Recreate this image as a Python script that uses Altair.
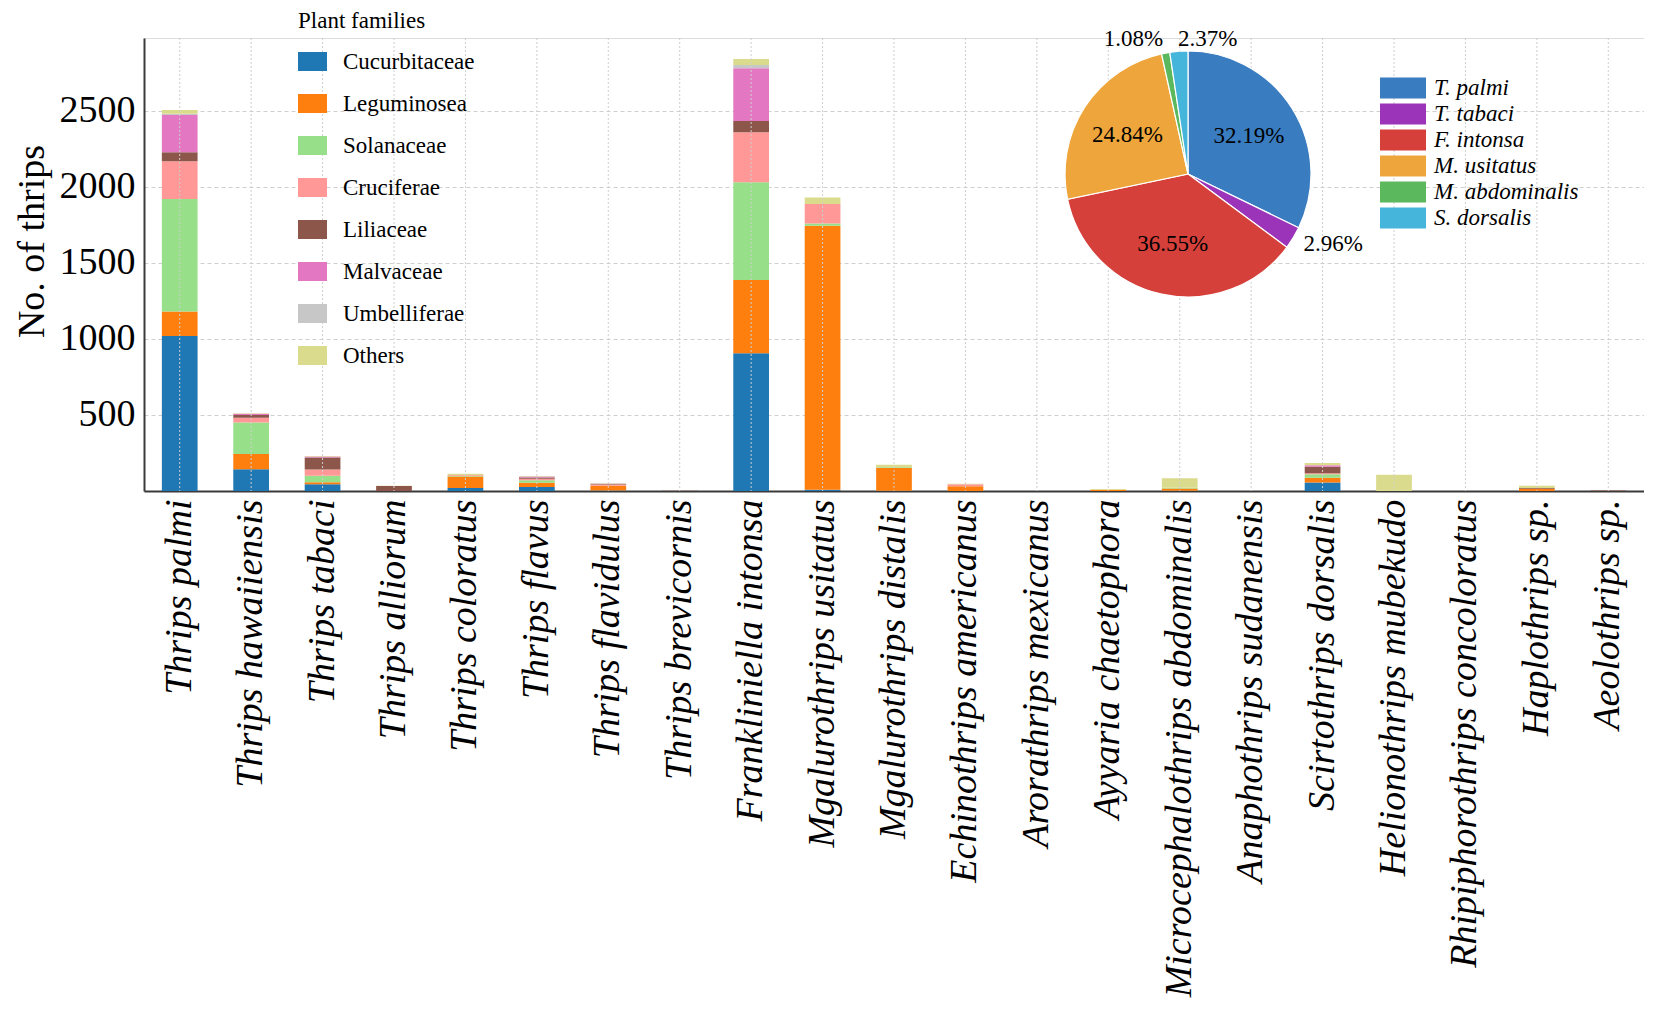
import altair as alt
import pandas as pd

species = ["Thrips palmi", "Thrips hawaiiensis", "Thrips tabaci", "Thrips alliorum",
           "Thrips coloratus", "Thrips flavus", "Thrips flavidulus", "Thrips brevicornis",
           "Frankliniella intonsa", "Mgalurothrips usitatus", "Mgalurothrips distalis",
           "Echinothrips americanus", "Arorathrips mexicanus", "Ayyaria chaetophora",
           "Microcephalothrips abdominalis", "Anaphothrips sudanensis", "Scirtothrips dorsalis",
           "Helionothrips mubekudo", "Rhipiphorothrips concoloratus", "Haplothrips sp.",
           "Aeolothrips sp."]

families = ["Cucurbitaceae", "Leguminosea", "Solanaceae", "Cruciferae",
            "Liliaceae", "Malvaceae", "Umbelliferae", "Others"]

cucurbitaceae = [1020, 143, 45, 0, 20, 27, 3, 0, 906, 8, 2, 0, 0, 0, 2, 0, 56, 0, 0, 0, 0]
leguminosea   = [160, 100, 12, 0, 76, 28, 31, 0, 482, 1737, 150, 31, 0, 8, 14, 0, 31, 0, 0, 14, 0]
solanaceae    = [741, 207, 43, 0, 4, 15, 0, 0, 643, 15, 5, 0, 0, 0, 6, 0, 24, 0, 0, 0, 0]
cruciferae    = [248, 32, 41, 0, 6, 10, 9, 0, 329, 128, 0, 14, 0, 0, 0, 0, 6, 0, 0, 0, 0]
liliaceae     = [59, 18, 79, 33, 0, 9, 5, 2, 74, 0, 0, 0, 0, 0, 0, 0, 43, 0, 0, 6, 3]
malvaceae     = [246, 8, 7, 0, 0, 6, 0, 0, 347, 0, 0, 0, 0, 0, 0, 0, 10, 0, 0, 0, 0]
umbelliferae  = [8, 0, 0, 0, 0, 0, 0, 0, 22, 0, 0, 0, 0, 0, 0, 0, 0, 0, 0, 0, 0]
others        = [25, 4, 4, 2, 8, 3, 2, 0, 39, 42, 15, 2, 0, 5, 62, 0, 15, 107, 0, 14, 0]

family_colors = ["#1f77b4", "#ff7f0e", "#98df8a", "#ff9896",
                 "#8c564b", "#e377c2", "#c7c7c7", "#dbdb8d"]

pie_species = ["T. palmi", "T. tabaci", "F. intonsa", "M. usitatus", "M. abdominalis", "S. dorsalis"]
pie_pct = [32.19, 2.96, 36.55, 24.84, 1.08, 2.37]
pie_colors = ["#3a7cc0", "#9b34b9", "#d6403b", "#eea63c", "#5cb85c", "#45b5db"]

series = [cucurbitaceae, leguminosea, solanaceae, cruciferae,
          liliaceae, malvaceae, umbelliferae, others]

rows = []
for fi, (fam, vals) in enumerate(zip(families, series)):
    for sp, v in zip(species, vals):
        rows.append({"species": sp, "family": fam, "count": v, "fi": fi})
bar_df = pd.DataFrame(rows)
grid_df = pd.DataFrame({"species": species})
pie_df = pd.DataFrame({"name": pie_species, "pct": pie_pct, "i": list(range(len(pie_species)))})

FONT = "Liberation Serif"
CX, CY = 1044, 136

x_enc = alt.X("species:N", sort=species, title=None,
              scale=alt.Scale(paddingInner=0.5, paddingOuter=0.25),
              axis=alt.Axis(labelAngle=270, labelAlign="right", labelBaseline="middle",
                            labelPadding=8, labelLimit=1000, labelFont=FONT,
                            labelFontStyle="italic", labelFontSize=38, labelColor="black",
                            ticks=False, grid=False, domainColor="#3a3a3a", domainWidth=2))

bars = alt.Chart(bar_df).mark_bar().encode(
    x=x_enc,
    y=alt.Y("count:Q", stack="zero", title="No. of thrips",
            scale=alt.Scale(domain=[0, 2980], nice=False),
            axis=alt.Axis(values=[500, 1000, 1500, 2000, 2500], format="d",
                          labelFont=FONT, labelFontSize=38, labelColor="black",
                          labelPadding=9, ticks=False, domainColor="#3a3a3a", domainWidth=2,
                          gridColor="#cfcfcf", gridDash=[4, 3], gridWidth=1,
                          titleFont=FONT, titleFontSize=38, titleFontWeight="normal",
                          titleColor="black", titlePadding=8, titleY=203)),
    color=alt.Color("family:N", sort=families,
                    scale=alt.Scale(domain=families, range=family_colors),
                    legend=alt.Legend(title="Plant families", orient="none",
                                      legendX=154, legendY=-28, direction="vertical",
                                      titleFont=FONT, titleFontSize=23,
                                      titleFontWeight="normal", titleColor="black",
                                      titlePadding=14, labelFont=FONT, labelFontSize=23,
                                      labelColor="black", labelOffset=16,
                                      symbolType="M-1,-0.655H1V0.655H-1Z", symbolSize=841,
                                      symbolStrokeWidth=0, symbolOpacity=1,
                                      rowPadding=15, padding=0, labelLimit=400)),
    order=alt.Order("fi:Q", sort="ascending"),
)

grid = alt.Chart(grid_df).mark_rule(color="#cfcfcf", strokeDash=[2, 2], strokeWidth=1).encode(
    x=alt.X("species:N", sort=species)
)

pie_base = alt.Chart(pie_df).transform_joinaggregate(
    total="sum(pct)"
).transform_window(
    cum="sum(pct)", sort=[alt.SortField("i")], frame=[None, 0]
).transform_calculate(
    t1="datum.cum / datum.total * 2 * PI",
    t0="(datum.cum - datum.pct) / datum.total * 2 * PI",
).transform_calculate(
    mid="(datum.t0 + datum.t1) / 2",
    label="format(datum.pct, '.2f') + '%'",
)

arcs = pie_base.mark_arc(radius=123, stroke="white", strokeWidth=1.2).encode(
    x=alt.value(CX), y=alt.value(CY),
    theta=alt.Theta("t0:Q", scale=None), theta2=alt.Theta2("t1:Q"),
    color=alt.Color("name:N", sort=pie_species,
                    scale=alt.Scale(domain=pie_species, range=pie_colors),
                    legend=alt.Legend(title=None, orient="none", legendX=1246, legendY=37,
                                      labelFont=FONT, labelFontStyle="italic", labelFontSize=23,
                                      labelColor="black", labelOffset=18,
                                      symbolType="M-1.77,-0.8H1.77V0.8H-1.77Z", symbolSize=676,
                                      symbolStrokeWidth=0, symbolOpacity=1,
                                      rowPadding=1, padding=0, labelLimit=400)),
)

def pct_text(cond, align, radius):
    return pie_base.transform_filter(cond).mark_text(
        font=FONT, fontSize=23, color="black", align=align, baseline="middle"
    ).encode(
        x=alt.value(CX), y=alt.value(CY),
        theta=alt.Theta("mid:Q", scale=None, stack=False),
        radius=alt.value(radius),
        text="label:N",
    )

t_inner = pct_text("datum.pct > 5", "center", 72)
t_left = pct_text("datum.pct <= 5 && datum.name != 'M. abdominalis'", "left", 135)
t_right = pct_text("datum.name == 'M. abdominalis'", "right", 137)

chart = alt.layer(bars, grid, arcs, t_inner, t_left, t_right).resolve_scale(
    color="independent"
).properties(
    width=1500, height=453,
    autosize=alt.AutoSizeParams(type="none"),
    padding={"left": 136, "top": 30, "right": 0, "bottom": 515},
).configure_view(strokeWidth=0).configure(font=FONT, background="white")

chart.save("out.html", embed_options={"renderer": "svg", "actions": False})
